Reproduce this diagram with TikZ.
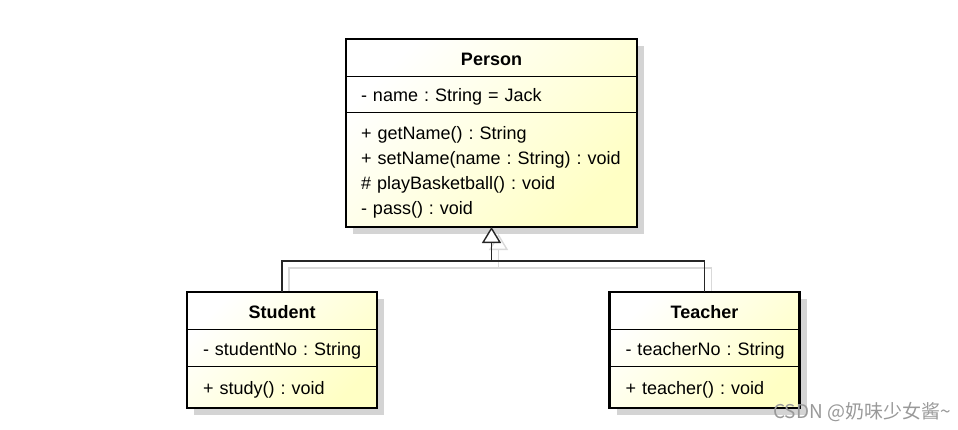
\documentclass[tikz,border=0pt]{standalone}
\usepackage{fontspec}
\setmainfont{Liberation Sans}
\newfontfamily\cjk{Noto Sans CJK SC}
\usetikzlibrary{arrows.meta, positioning, calc, backgrounds}
\definecolor{classyellow}{RGB}{255,255,196}
\definecolor{classshade}{RGB}{212,212,212}
\tikzset{
  classpart/.style={
    rectangle, draw=black, line width=0.9pt, inner ysep=0pt, inner xsep=16pt,
    outer sep=0pt, align=left, font=\fontsize{18}{25}\selectfont\frenchspacing
  },
  classhead/.style={classpart, align=center, text height=16pt, text depth=0pt,
    font=\fontsize{18}{25}\selectfont\bfseries},
  classattr/.style={classpart, text height=15.5pt, text depth=0pt},
  classops/.style={classpart, text height=15pt, text depth=1pt},
  classframe/.style={draw=black, line width=2.2pt},
  classfill/.style={left color=white, right color=classyellow, shading angle=45},
  classshadow/.style={fill=classshade},
  genline/.style={draw=black!85, line width=1.4pt},
  genshadow/.style={draw=black!15, line width=1.4pt},
  genarrow/.style={-{Triangle[open, fill=white, length=16pt, width=19pt]}}
}

\begin{document}
\begin{tikzpicture}[x=1pt, y=-1pt]
    \useasboundingbox (0,0) rectangle (958,429);
    
    % Person
    \node[classhead, minimum width=291pt, minimum height=37pt] (person) at (491.5,57.5) {Person};
    \node[classattr, below=0pt of person, minimum height=36pt, inner xsep=15pt, text width=261pt] (personattr) {- name : String = Jack};
    \node[classops, below=0pt of personattr, minimum height=115pt, inner xsep=15pt, text width=261pt,
    text height=16pt, text depth=77pt] (personops)
    {+ getName() : String\\+ setName(name : String) : void\\\# playBasketball() : void\\- pass() : void};
    \draw[classframe] (person.north west) rectangle (personops.south east);
    
    % Student
    \node[classhead, minimum width=190pt, minimum height=37pt] (student) at (282,310.5) {Student};
    \node[classattr, below=0pt of student, minimum height=37pt, text width=158pt] (studentattr) {\mbox{- studentNo : String}};
    \node[classops, below=0pt of studentattr, minimum height=42pt, text width=158pt] (studentops) {+ study() : void};
    \draw[classframe] (student.north west) rectangle (studentops.south east);
    
    % Teacher
    \node[classhead, minimum width=190pt, minimum height=37pt] (teacher) at (704.5,310.5) {Teacher};
    \node[classattr, below=0pt of teacher, minimum height=37pt, text width=158pt] (teacherattr) {\mbox{- teacherNo : String}};
    \node[classops, below=0pt of teacherattr, minimum height=42pt, text width=158pt] (teacherops) {+ teacher() : void};
    \draw[classframe] (teacher.north west) rectangle (teacherops.south east);
    
    % generalization
    \coordinate (join) at ($(personops.south)+(0,34)$);
    \draw[genline] (student.north) |- (join) -| (teacher.north);
    \draw[genline, genarrow] (join) -- (personops.south);
    
    \begin{scope}[on background layer]
    \fill[classshadow] ($(person.north west)+(7,7)$) rectangle ($(personops.south east)+(7,7)$);
    \fill[classshadow] ($(student.north west)+(7,7)$) rectangle ($(studentops.south east)+(7,7)$);
    \fill[classshadow] ($(teacher.north west)+(7,7)$) rectangle ($(teacherops.south east)+(7,7)$);
    \draw[genshadow] ($(student.north)+(7,0)$) |- ($(join)+(7,7)$) -| ($(teacher.north)+(7,0)$);
    \draw[genshadow, genarrow] ($(join)+(7,7)$) -- ($(personops.south)+(7,7)$);
    \shade[classfill] (person.north west) rectangle (personops.south east);
    \shade[classfill] (student.north west) rectangle (studentops.south east);
    \shade[classfill] (teacher.north west) rectangle (teacherops.south east);
    \end{scope}
    
    % watermark
    \node[font=\cjk\fontsize{19}{22}\selectfont, text=black!40, anchor=east, inner sep=0pt] (mark) at (951,412) {CSDN @奶味少女酱\textasciitilde};
    
\end{tikzpicture}
\end{document}
